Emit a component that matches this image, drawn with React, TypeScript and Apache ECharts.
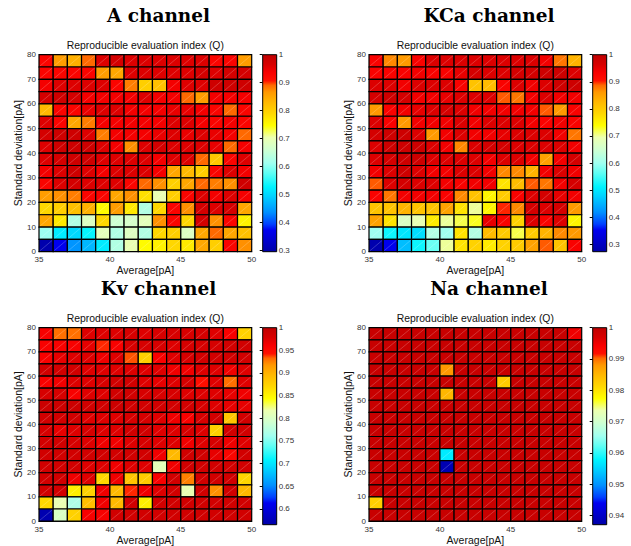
import React, { useEffect, useRef } from "react";
import * as echarts from "echarts";

// ---------- DATA ----------
const xEdges = [35, 36, 37, 38, 39, 40, 41, 42, 43, 44, 45, 46, 47, 48, 49, 50];
const yEdges = [0, 5, 10, 15, 20, 25, 30, 35, 40, 45, 50, 55, 60, 65, 70, 75, 80];

const channelNames = ["A channel", "KCa channel", "Kv channel", "Na channel"];
const subTitle = "Reproducible evaluation index (Q)";
const xName = "Average[pA]";
const yName = "Standard deviation[pA]";

// rows listed from top (75–80 pA) down to bottom (0–5 pA); columns 35→50 pA
const qA = [
  [0.93, 0.86, 0.84, 0.89, 0.96, 0.97, 0.96, 0.96, 0.96, 0.96, 0.96, 0.96, 0.93, 0.93, 0.86],
  [0.93, 0.93, 0.93, 0.93, 0.86, 0.85, 0.96, 0.96, 0.96, 0.96, 0.96, 0.97, 0.96, 0.97, 0.97],
  [0.94, 0.96, 0.96, 0.96, 0.96, 0.93, 0.88, 0.8, 0.82, 0.94, 0.96, 0.96, 0.98, 0.98, 0.98],
  [0.97, 0.98, 0.97, 0.94, 0.94, 0.94, 0.94, 0.96, 0.94, 0.94, 0.89, 0.86, 0.94, 0.94, 0.94],
  [0.83, 0.93, 0.93, 0.95, 0.96, 0.96, 0.94, 0.94, 0.94, 0.95, 0.95, 0.94, 0.93, 0.89, 0.93],
  [0.96, 0.93, 0.85, 0.88, 0.94, 0.94, 0.94, 0.94, 0.94, 0.96, 0.96, 0.94, 0.93, 0.94, 0.93],
  [0.97, 0.98, 0.98, 0.96, 0.88, 0.94, 0.94, 0.94, 0.95, 0.96, 0.95, 0.96, 0.95, 0.94, 0.89],
  [0.96, 0.98, 0.98, 0.98, 0.96, 0.94, 0.87, 0.96, 0.97, 0.96, 0.96, 0.96, 0.95, 0.89, 0.94],
  [0.96, 0.97, 0.98, 0.98, 0.96, 0.96, 0.96, 0.96, 0.94, 0.96, 0.96, 0.89, 0.81, 0.93, 0.96],
  [0.94, 0.96, 0.98, 0.96, 0.94, 0.96, 0.96, 0.96, 0.94, 0.85, 0.83, 0.8, 0.93, 0.96, 0.94],
  [0.93, 0.96, 0.97, 0.96, 0.96, 0.96, 0.93, 0.89, 0.87, 0.8, 0.85, 0.89, 0.88, 0.87, 0.98],
  [0.86, 0.87, 0.88, 0.93, 0.93, 0.85, 0.87, 0.78, 0.7, 0.8, 0.93, 0.96, 0.94, 0.96, 0.94],
  [0.79, 0.8, 0.82, 0.84, 0.75, 0.86, 0.77, 0.63, 0.79, 0.93, 0.87, 0.97, 0.96, 0.97, 0.85],
  [0.85, 0.77, 0.63, 0.68, 0.79, 0.66, 0.67, 0.69, 0.87, 0.93, 0.79, 0.97, 0.87, 0.93, 0.76],
  [0.61, 0.52, 0.5, 0.53, 0.69, 0.63, 0.68, 0.63, 0.79, 0.8, 0.68, 0.85, 0.89, 0.85, 0.82],
  [0.3, 0.37, 0.44, 0.47, 0.52, 0.63, 0.7, 0.75, 0.76, 0.79, 0.77, 0.85, 0.8, 0.93, 0.87],
];

const qKCa = [
  [0.93, 0.87, 0.86, 0.93, 0.96, 0.96, 0.96, 0.96, 0.96, 0.96, 0.96, 0.96, 0.94, 0.88, 0.83],
  [0.93, 0.93, 0.93, 0.94, 0.93, 0.93, 0.95, 0.97, 0.96, 0.96, 0.97, 0.97, 0.98, 0.98, 0.96],
  [0.96, 0.96, 0.94, 0.96, 0.96, 0.96, 0.93, 0.81, 0.82, 0.93, 0.96, 0.94, 0.96, 0.98, 0.98],
  [0.97, 0.98, 0.97, 0.94, 0.94, 0.95, 0.96, 0.96, 0.96, 0.89, 0.88, 0.94, 0.96, 0.94, 0.94],
  [0.86, 0.93, 0.94, 0.95, 0.96, 0.97, 0.96, 0.94, 0.94, 0.94, 0.94, 0.94, 0.89, 0.86, 0.93],
  [0.96, 0.93, 0.86, 0.94, 0.94, 0.94, 0.96, 0.94, 0.96, 0.96, 0.96, 0.94, 0.93, 0.94, 0.93],
  [0.97, 0.98, 0.98, 0.96, 0.86, 0.94, 0.96, 0.94, 0.94, 0.95, 0.96, 0.96, 0.96, 0.94, 0.88],
  [0.96, 0.98, 0.98, 0.98, 0.96, 0.94, 0.87, 0.96, 0.97, 0.97, 0.96, 0.96, 0.96, 0.96, 0.94],
  [0.96, 0.97, 0.98, 0.98, 0.96, 0.96, 0.96, 0.96, 0.94, 0.96, 0.96, 0.94, 0.85, 0.94, 0.97],
  [0.94, 0.96, 0.98, 0.96, 0.94, 0.94, 0.96, 0.96, 0.94, 0.87, 0.87, 0.83, 0.94, 0.96, 0.94],
  [0.89, 0.96, 0.97, 0.96, 0.96, 0.94, 0.93, 0.94, 0.94, 0.77, 0.82, 0.89, 0.88, 0.94, 0.97],
  [0.93, 0.88, 0.94, 0.94, 0.94, 0.93, 0.87, 0.81, 0.75, 0.8, 0.93, 0.96, 0.97, 0.95, 0.94],
  [0.81, 0.81, 0.83, 0.81, 0.81, 0.85, 0.77, 0.7, 0.75, 0.9, 0.87, 0.97, 0.96, 0.97, 0.86],
  [0.85, 0.77, 0.67, 0.69, 0.76, 0.7, 0.72, 0.73, 0.95, 0.93, 0.79, 0.96, 0.93, 0.96, 0.75],
  [0.6, 0.52, 0.5, 0.49, 0.62, 0.6, 0.77, 0.62, 0.82, 0.8, 0.72, 0.8, 0.83, 0.87, 0.86],
  [0.28, 0.35, 0.46, 0.52, 0.57, 0.7, 0.77, 0.79, 0.76, 0.79, 0.8, 0.85, 0.89, 0.81, 0.93],
];

const qKv = [
  [0.96, 0.93, 0.93, 0.975, 0.975, 0.975, 0.98, 0.975, 0.98, 0.98, 0.98, 0.98, 0.975, 0.96, 0.875],
  [0.96, 0.96, 0.96, 0.97, 0.94, 0.96, 0.98, 0.98, 0.98, 0.975, 0.98, 0.98, 0.98, 0.985, 0.985],
  [0.96, 0.97, 0.975, 0.975, 0.965, 0.975, 0.935, 0.875, 0.96, 0.975, 0.98, 0.985, 0.985, 0.985, 0.985],
  [0.985, 0.985, 0.985, 0.975, 0.975, 0.975, 0.975, 0.975, 0.975, 0.965, 0.965, 0.975, 0.975, 0.965, 0.975],
  [0.96, 0.965, 0.975, 0.975, 0.98, 0.985, 0.985, 0.975, 0.97, 0.975, 0.98, 0.945, 0.975, 0.93, 0.975],
  [0.98, 0.98, 0.96, 0.975, 0.975, 0.985, 0.985, 0.98, 0.98, 0.98, 0.975, 0.975, 0.975, 0.97, 0.965],
  [0.99, 0.99, 0.99, 0.985, 0.985, 0.99, 0.985, 0.985, 0.985, 0.985, 0.985, 0.98, 0.975, 0.97, 0.97],
  [0.985, 0.985, 0.985, 0.975, 0.975, 0.975, 0.98, 0.98, 0.975, 0.965, 0.96, 0.98, 0.985, 0.885, 0.985],
  [0.98, 0.97, 0.975, 0.98, 0.975, 0.975, 0.985, 0.985, 0.975, 0.975, 0.98, 0.975, 0.875, 0.985, 0.985],
  [0.985, 0.985, 0.98, 0.975, 0.965, 0.965, 0.975, 0.98, 0.975, 0.975, 0.965, 0.975, 0.98, 0.965, 0.975],
  [0.985, 0.985, 0.985, 0.985, 0.985, 0.985, 0.985, 0.985, 0.965, 0.895, 0.985, 0.985, 0.97, 0.955, 0.985],
  [0.985, 0.985, 0.985, 0.975, 0.975, 0.965, 0.975, 0.975, 0.81, 0.965, 0.985, 0.985, 0.985, 0.985, 0.985],
  [0.985, 0.985, 0.965, 0.975, 0.87, 0.965, 0.885, 0.88, 0.96, 0.985, 0.925, 0.985, 0.985, 0.985, 0.87],
  [0.985, 0.985, 0.855, 0.875, 0.965, 0.895, 0.94, 0.965, 0.975, 0.985, 0.815, 0.985, 0.92, 0.985, 0.895],
  [0.87, 0.815, 0.77, 0.89, 0.965, 0.895, 0.985, 0.855, 0.985, 0.985, 0.985, 0.985, 0.985, 0.985, 0.985],
  [0.57, 0.8, 0.875, 0.96, 0.96, 0.985, 0.985, 0.985, 0.985, 0.985, 0.985, 0.985, 0.985, 0.985, 0.985],
];

const qNa = [
  [0.999, 0.999, 0.999, 0.999, 0.999, 0.999, 0.999, 0.999, 0.999, 0.999, 0.999, 0.999, 0.999, 0.999, 0.995],
  [0.999, 0.999, 0.999, 0.999, 0.999, 0.999, 0.999, 0.999, 0.999, 0.999, 0.999, 0.999, 0.999, 0.999, 0.999],
  [0.999, 0.999, 0.999, 0.999, 0.999, 0.999, 0.999, 0.999, 0.999, 0.999, 0.999, 0.999, 0.999, 0.999, 0.999],
  [0.999, 0.999, 0.999, 0.999, 0.999, 0.988, 0.999, 0.999, 0.999, 0.999, 0.999, 0.999, 0.999, 0.999, 0.999],
  [0.999, 0.999, 0.999, 0.999, 0.999, 0.999, 0.999, 0.999, 0.999, 0.9825, 0.999, 0.999, 0.999, 0.999, 0.999],
  [0.999, 0.999, 0.999, 0.999, 0.999, 0.985, 0.999, 0.999, 0.999, 0.999, 0.999, 0.999, 0.999, 0.999, 0.999],
  [0.999, 0.999, 0.999, 0.999, 0.999, 0.999, 0.999, 0.999, 0.999, 0.999, 0.999, 0.999, 0.999, 0.999, 0.999],
  [0.999, 0.999, 0.999, 0.999, 0.999, 0.999, 0.999, 0.999, 0.999, 0.999, 0.999, 0.999, 0.999, 0.999, 0.999],
  [0.999, 0.999, 0.999, 0.999, 0.999, 0.999, 0.999, 0.999, 0.999, 0.999, 0.999, 0.999, 0.999, 0.999, 0.999],
  [0.999, 0.999, 0.999, 0.999, 0.999, 0.999, 0.999, 0.999, 0.999, 0.999, 0.999, 0.999, 0.999, 0.999, 0.999],
  [0.999, 0.999, 0.999, 0.999, 0.999, 0.957, 0.999, 0.999, 0.999, 0.999, 0.999, 0.999, 0.999, 0.999, 0.999],
  [0.999, 0.999, 0.999, 0.999, 0.999, 0.938, 0.999, 0.999, 0.999, 0.999, 0.999, 0.999, 0.999, 0.999, 0.999],
  [0.999, 0.999, 0.999, 0.999, 0.999, 0.999, 0.999, 0.999, 0.999, 0.999, 0.999, 0.999, 0.999, 0.999, 0.999],
  [0.999, 0.999, 0.999, 0.999, 0.999, 0.999, 0.999, 0.999, 0.999, 0.999, 0.999, 0.999, 0.999, 0.999, 0.999],
  [0.982, 0.999, 0.999, 0.999, 0.999, 0.999, 0.999, 0.999, 0.999, 0.999, 0.999, 0.999, 0.999, 0.999, 0.999],
  [0.999, 0.999, 0.999, 0.999, 0.999, 0.999, 0.999, 0.999, 0.999, 0.999, 0.999, 0.999, 0.999, 0.999, 0.999],
];

// colour-bar ranges and tick labels
const cbRanges = [
  [0.295, 1],
  [0.273, 1],
  [0.565, 1],
  [0.937, 1],
];
const cbTicksA = [0.3, 0.4, 0.5, 0.6, 0.7, 0.8, 0.9, 1];
const cbTicksKCa = [0.3, 0.4, 0.5, 0.6, 0.7, 0.8, 0.9, 1];
const cbTicksKv = [0.6, 0.65, 0.7, 0.75, 0.8, 0.85, 0.9, 0.95, 1];
const cbTicksNa = [0.94, 0.95, 0.96, 0.97, 0.98, 0.99, 1];

// ---------- STYLE ----------
const cmapPos = [0, 0.11, 0.14, 0.2, 0.28, 0.33, 0.4, 0.45, 0.52, 0.58, 0.64, 0.7, 0.76, 0.81, 0.845, 0.868, 0.91, 0.95, 1];
const cmapCol = [
  "#0000a8", "#0000f0", "#0040ff", "#0090ff", "#00d0ff", "#00f4ff", "#60fff4", "#a0fff0",
  "#d0ffd0", "#ecffb0", "#ffff00", "#ffd800", "#ffb800", "#ff9800", "#ff6800", "#ff1000",
  "#f80000", "#d80000", "#c00000",
];

const SANS = '"Liberation Sans", Arial, Helvetica, sans-serif';
const SERIF = '"DejaVu Serif", serif';
const PLOT_W = 212.7;
const PLOT_H = 197;
const CB_OFF = 223.7;
const CB_W = 14;
const origins = [
  [39, 54.7],
  [369, 54.7],
  [39, 327.7],
  [369, 327.7],
];

function hexToRgb(h: string) {
  const n = parseInt(h.slice(1), 16);
  return [(n >> 16) & 255, (n >> 8) & 255, n & 255];
}
function cmap(t: number): string {
  const tt = Math.max(0, Math.min(1, t));
  for (let k = 1; k < cmapPos.length; k++) {
    if (tt <= cmapPos[k]) {
      const f = (tt - cmapPos[k - 1]) / (cmapPos[k] - cmapPos[k - 1]);
      const a = hexToRgb(cmapCol[k - 1]);
      const b = hexToRgb(cmapCol[k]);
      const c = a.map((v, i) => Math.round(v + (b[i] - v) * f));
      return `rgb(${c[0]},${c[1]},${c[2]})`;
    }
  }
  return cmapCol[cmapCol.length - 1];
}

function buildOption() {
  const grids: any[] = [];
  const xAxes: any[] = [];
  const yAxes: any[] = [];
  const series: any[] = [];
  const graphics: any[] = [];
  const qs = [qA, qKCa, qKv, qNa];
  const ticks = [cbTicksA, cbTicksKCa, cbTicksKv, cbTicksNa];
  const nRows = yEdges.length - 1;

  qs.forEach((q, k) => {
    const [ox, oy] = origins[k];
    const [vmin, vmax] = cbRanges[k];
    grids.push({ left: ox, top: oy, width: PLOT_W, height: PLOT_H });
    xAxes.push({
      gridIndex: k,
      type: "value",
      min: xEdges[0],
      max: xEdges[xEdges.length - 1],
      interval: 5,
      axisLine: { lineStyle: { color: "#000", width: 1 } },
      axisTick: { inside: true, length: 3, lineStyle: { color: "#000" } },
      axisLabel: { fontSize: 8, color: "#333", margin: 4, fontFamily: SANS },
      splitLine: { show: false },
      name: xName,
      nameLocation: "middle",
      nameGap: 11,
      nameTextStyle: { fontSize: 10.5, fontFamily: SANS, color: "#111" },
    });
    yAxes.push({
      gridIndex: k,
      type: "value",
      min: yEdges[0],
      max: yEdges[yEdges.length - 1],
      interval: 10,
      axisLine: { lineStyle: { color: "#000", width: 1 } },
      axisTick: { inside: true, length: 3, lineStyle: { color: "#000" } },
      axisLabel: { fontSize: 8, color: "#333", margin: 3, fontFamily: SANS },
      splitLine: { show: false },
      name: yName,
      nameLocation: "middle",
      nameGap: 12,
      nameTextStyle: { fontSize: 10.5, fontFamily: SANS, color: "#111" },
    });
    const data: number[][] = [];
    q.forEach((row, r) => {
      row.forEach((v, i) => {
        data.push([i, nRows - 1 - r, v]);
      });
    });
    series.push({
      type: "custom",
      xAxisIndex: k,
      yAxisIndex: k,
      silent: true,
      data,
      renderItem: (params: any, api: any) => {
        const i = api.value(0);
        const j = api.value(1);
        const v = api.value(2);
        const p0 = api.coord([xEdges[i], yEdges[j]]);
        const p1 = api.coord([xEdges[i + 1], yEdges[j + 1]]);
        const fill = cmap((v - vmin) / (vmax - vmin));
        return {
          type: "group",
          children: [
            {
              type: "rect",
              shape: { x: p0[0], y: p1[1], width: p1[0] - p0[0], height: p0[1] - p1[1] },
              style: { fill, stroke: "#000", lineWidth: 1.2 },
            },
            {
              type: "line",
              shape: { x1: p0[0] + 1, y1: p0[1] - 1, x2: p1[0] - 1, y2: p1[1] + 1 },
              style: { stroke: "rgba(255,255,255,0.35)", lineWidth: 0.6 },
            },
          ],
        };
      },
    });
  });

  // colour bars
  const gradStops = cmapPos.map((p, i) => ({ offset: p, color: cmapCol[i] }));
  qs.forEach((_q, k) => {
    const [ox, oy] = origins[k];
    const [vmin, vmax] = cbRanges[k];
    const gi = 4 + k;
    grids.push({ left: ox + CB_OFF, top: oy, width: CB_W, height: PLOT_H });
    xAxes.push({ gridIndex: gi, type: "value", min: 0, max: 1, show: false });
    yAxes.push({
      gridIndex: gi,
      type: "value",
      position: "right",
      min: vmin,
      max: vmax,
      axisLine: { show: false },
      axisTick: { inside: true, length: 3, customValues: ticks[k], lineStyle: { color: "#000" } },
      axisLabel: {
        customValues: ticks[k],
        fontSize: 8,
        color: "#333",
        margin: 2,
        fontFamily: SANS,
        formatter: (v: number) => String(Number(v.toFixed(3))),
      },
      splitLine: { show: false },
    });
    series.push({
      type: "custom",
      xAxisIndex: gi,
      yAxisIndex: gi,
      silent: true,
      z: 1,
      data: [[0.5, vmin]],
      renderItem: (params: any) => {
        const cs = params.coordSys;
        return {
          type: "rect",
          shape: { x: cs.x, y: cs.y, width: cs.width, height: cs.height },
          style: {
            fill: new echarts.graphic.LinearGradient(0, 1, 0, 0, gradStops),
            stroke: "#000",
            lineWidth: 1,
          },
        };
      },
    });
  });

  // titles
  const titlePos = [
    [158.5, 15],
    [489, 15],
    [158.5, 288],
    [489, 288],
  ];
  channelNames.forEach((name, k) => {
    const [ox, oy] = origins[k];
    graphics.push({
      type: "text",
      x: titlePos[k][0],
      y: titlePos[k][1],
      style: {
        text: name,
        font: `bold 18.5px ${SERIF}`,
        fill: "#000",
        textAlign: "center",
        textVerticalAlign: "middle",
      },
    });
    graphics.push({
      type: "text",
      x: ox + PLOT_W / 2,
      y: oy - 9,
      style: {
        text: subTitle,
        font: `10.4px ${SANS}`,
        fill: "#111",
        textAlign: "center",
        textVerticalAlign: "middle",
      },
    });
  });

  return {
    animation: false,
    backgroundColor: "#fff",
    grid: grids,
    xAxis: xAxes,
    yAxis: yAxes,
    series,
    graphic: graphics,
  };
}

export default function App() {
  const ref = useRef<HTMLDivElement>(null);
  useEffect(() => {
    if (!ref.current) return;
    const chart = echarts.init(ref.current, undefined, { renderer: "svg" });
    chart.setOption(buildOption() as any);
    return () => chart.dispose();
  }, []);
  return (
    <div
      ref={ref}
      style={{ position: "absolute", left: 0, top: 0, width: 631, height: 546 }}
    />
  );
}
